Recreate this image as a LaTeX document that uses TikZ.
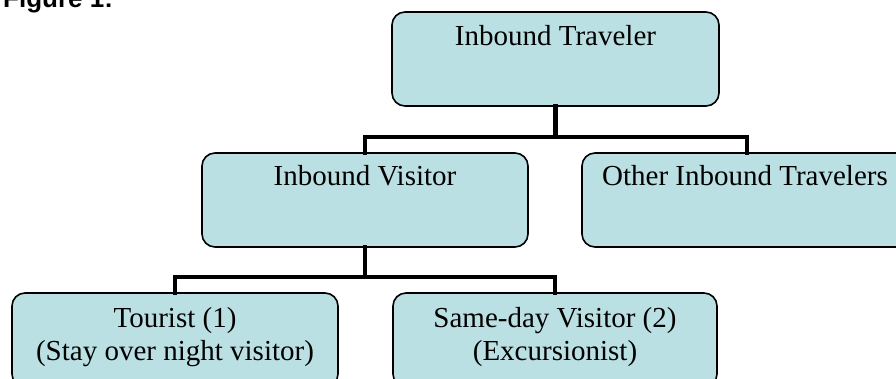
\documentclass[tikz,border=0pt]{standalone}
\usepackage{fontspec}
\setmainfont{Liberation Serif}
\newfontfamily\headfont{Liberation Sans}
\definecolor{boxfill}{RGB}{186,224,227}
\tikzset{
  orgbox/.style={draw=black, line width=1.6pt, fill=boxfill, rounded corners=13pt,
    rectangle, inner sep=0pt},
  boxtext/.style={anchor=base, inner sep=0pt, align=center,
    font=\fontsize{29}{33}\selectfont},
  conn/.style={draw=black, line width=4.8pt, line join=miter, line cap=rect},
}
\begin{document}
\begin{tikzpicture}[x=1pt, y=-1pt]
\useasboundingbox (0,0) rectangle (896,378);
\clip (0,0) rectangle (896,378);

% caption at the top left
\node[anchor=base west, inner sep=0pt, font=\headfont\bfseries\fontsize{26}{30}\selectfont]
  (caption) at (3,7) {Figure 1:};

% boxes
\node[orgbox, minimum width=327pt, minimum height=94pt] (top) at (555.5,59) {};
\node[orgbox, minimum width=326pt, minimum height=94pt] (visitor) at (365,200) {};
\node[orgbox, minimum width=330pt, minimum height=94pt] (other) at (747,200) {};
\node[orgbox, minimum width=326pt, minimum height=94pt] (tourist) at (175,340) {};
\node[orgbox, minimum width=324pt, minimum height=94pt] (sameday) at (555,340) {};

% box texts (two-line texts are placed by their last baseline)
\node[boxtext] (toptxt) at (555.5,45) {Inbound Traveler};
\node[boxtext] (visitortxt) at (365,185) {Inbound Visitor};
\node[boxtext] (othertxt) at (745,185) {Other Inbound Travelers};
\node[boxtext] (touristtxt) at (175,360) {Tourist (1)\\(Stay over night visitor)};
\node[boxtext] (samedaytxt) at (555,360) {Same-day Visitor (2)\\(Excursionist)};

% connector buses
\coordinate (bus1) at (555.5,137);
\coordinate (bus2) at (365,277);

\draw[conn] (top.south) -- (bus1);
\draw[conn] (visitor.north) -- (visitor.north |- bus1) -- (other.north |- bus1) -- (other.north);
\draw[conn] (visitor.south) -- (bus2);
\draw[conn] (tourist.north) -- (tourist.north |- bus2) -- (sameday.north |- bus2) -- (sameday.north);
\end{tikzpicture}
\end{document}
